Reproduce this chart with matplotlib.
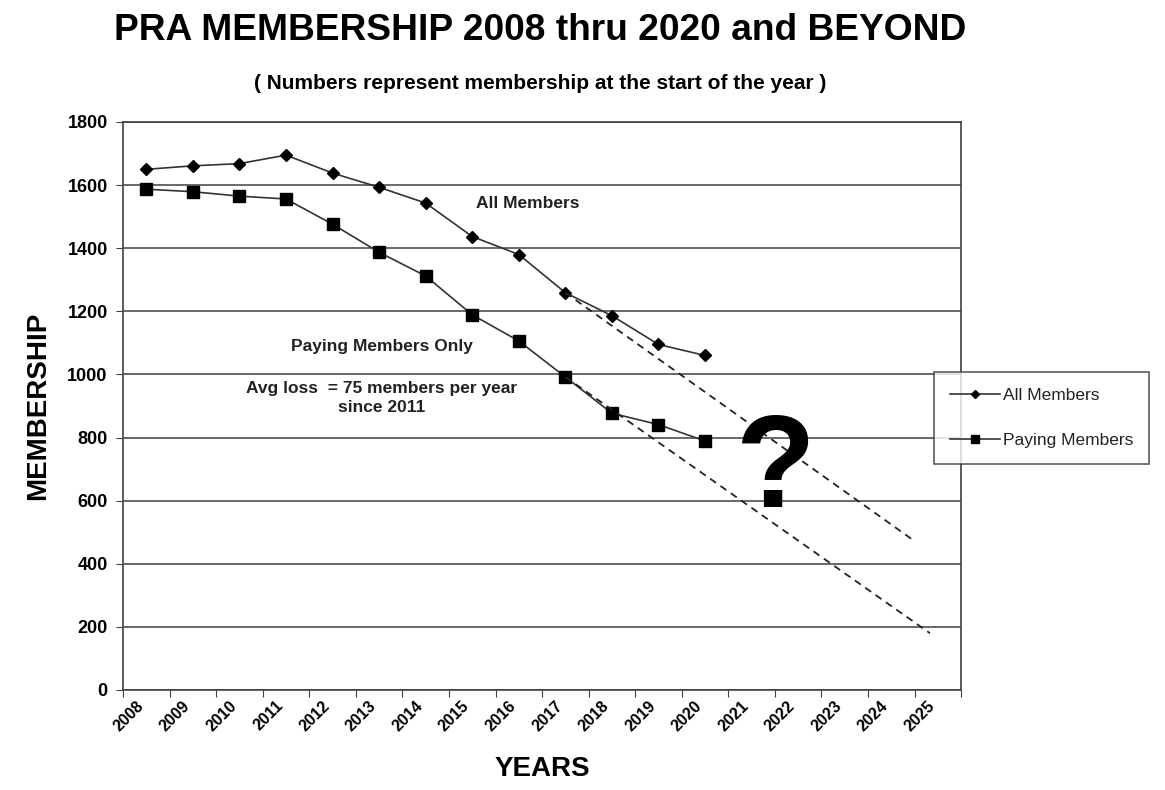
import matplotlib
matplotlib.use("Agg")
import matplotlib.pyplot as plt
from matplotlib.ticker import FixedLocator, NullFormatter

plt.rcParams['font.family'] = ['Liberation Sans', 'DejaVu Sans']

years = list(range(2008, 2026))
data_years = list(range(2008, 2021))
all_members = [1650, 1661, 1668, 1695, 1638, 1593, 1543, 1437, 1380, 1259, 1186, 1095, 1060]
paying_members = [1587, 1579, 1565, 1556, 1476, 1387, 1312, 1189, 1106, 992, 877, 841, 789]

# hand-drawn projection lines (start year/value, end year/value)
trend_all_x = [2017, 2024.47]
trend_all_y = [1259, 475]
trend_pay_x = [2017, 2024.83]
trend_pay_y = [992, 180]

fig = plt.figure(figsize=(11.65, 7.9), dpi=100)
ax = fig.add_axes([0.1056, 0.1266, 0.7194, 0.7190])

ax.set_xlim(2007.5, 2025.5)
ax.set_ylim(0, 1800)

ax.set_yticks(range(0, 1801, 200))
ax.yaxis.grid(True, color='#404040', linewidth=1.1)
ax.set_axisbelow(True)

# tick marks on the category boundaries, labels in the middle
ax.xaxis.set_major_locator(FixedLocator([y - 0.5 for y in years] + [2025.5]))
ax.xaxis.set_major_formatter(NullFormatter())
ax.xaxis.set_minor_locator(FixedLocator(years))
ax.set_xticklabels([str(y) for y in years], minor=True, rotation=45,
                   ha='right', va='top', fontsize=11.5, fontweight='bold')
ax.tick_params(axis='x', which='minor', length=0, pad=6)
ax.tick_params(axis='x', which='major', length=5, color='#404040')
ax.tick_params(axis='y', length=5, color='#404040', labelsize=13, pad=6)
for lbl in ax.get_yticklabels():
    lbl.set_fontweight('bold')

for s in ax.spines.values():
    s.set_color('#404040')
    s.set_linewidth(1.2)

ax.plot(data_years, all_members, color='#333333', linewidth=1.2, marker='D',
        markersize=6.5, markerfacecolor='black', markeredgecolor='black',
        label='All Members')
ax.plot(data_years, paying_members, color='#333333', linewidth=1.2, marker='s',
        markersize=8, markerfacecolor='black', markeredgecolor='black',
        label='Paying Members')

ax.plot(trend_all_x, trend_all_y, color='#222222', linewidth=1.3, linestyle=(0, (4, 3)))
ax.plot(trend_pay_x, trend_pay_y, color='#222222', linewidth=1.3, linestyle=(0, (4, 3)))

ax.text(2016.2, 1543, 'All Members', ha='center', va='center', fontsize=12.5, fontweight='bold', color='#222222')
ax.text(2013.05, 1087, 'Paying Members Only', ha='center', va='center', fontsize=12.5, fontweight='bold', color='#222222')
ax.text(2013.05, 925, 'Avg loss  = 75 members per year\nsince 2011', ha='center', va='center',
        fontsize=12.5, fontweight='bold', color='#222222', linespacing=1.4)
ax.text(2021.5, 690, '?', ha='center', va='center', fontsize=94, fontweight='bold', color='black')

ax.set_xlabel('YEARS', fontsize=20, fontweight='bold', labelpad=16)
ax.set_ylabel('MEMBERSHIP', fontsize=20, fontweight='bold', labelpad=12)

fig.text(0.4635, 0.962, 'PRA MEMBERSHIP 2008 thru 2020 and BEYOND', ha='center', va='center',
         fontsize=26.7, fontweight='bold')
fig.text(0.4635, 0.894, '( Numbers represent membership at the start of the year )', ha='center',
         va='center', fontsize=15, fontweight='bold')

leg = fig.legend(loc='upper left', bbox_to_anchor=(934 / 1165, 1 - 372 / 790),
                 bbox_transform=fig.transFigure, fontsize=12.5, frameon=True, fancybox=False,
                 borderaxespad=0, handlelength=2.9, borderpad=0.9, labelspacing=1.75,
                 handletextpad=0.2, markerscale=0.7)
leg.get_frame().set_edgecolor('#333333')
leg.get_frame().set_linewidth(1.2)
for t in leg.get_texts():
    t.set_color('#222222')

fig.savefig('out.png', dpi=100)
